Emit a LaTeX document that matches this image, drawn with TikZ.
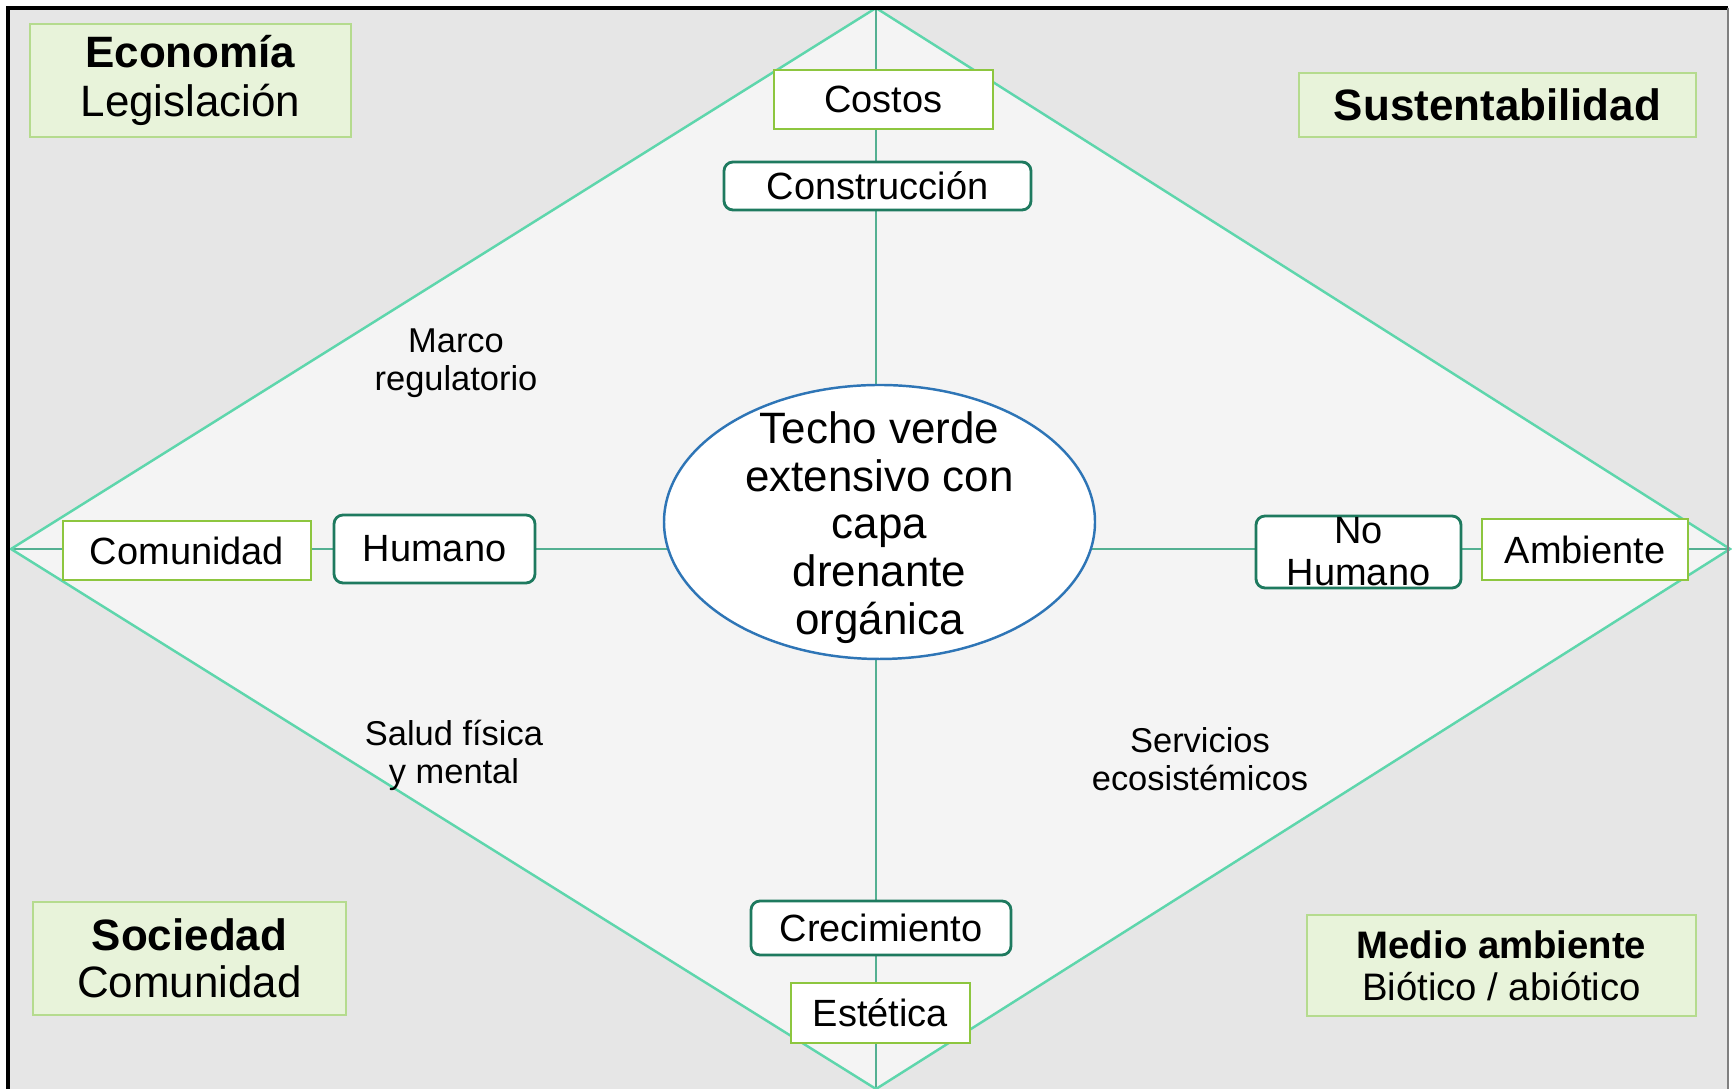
\documentclass[tikz,border=0pt]{standalone}
\usepackage{fontspec}
\setmainfont{Liberation Sans}
\usetikzlibrary{shapes.geometric}
\definecolor{fondo}{RGB}{230,230,230}
\definecolor{rombo}{RGB}{244,244,244}
\definecolor{menta}{RGB}{94,214,172}
\definecolor{eje}{RGB}{84,176,146}
\definecolor{verdeclaro}{RGB}{232,243,218}
\definecolor{bordeclaro}{RGB}{181,219,142}
\definecolor{lima}{RGB}{141,198,63}
\definecolor{pino}{RGB}{30,122,95}
\definecolor{azul}{RGB}{46,117,182}
\begin{document}
\begin{tikzpicture}[
  titulo/.style={draw=bordeclaro,fill=verdeclaro,line width=0.8pt,inner sep=0pt,align=center},
  cajaverde/.style={draw=lima,fill=white,line width=0.8pt,inner sep=0pt,font=\fontsize{10.8}{12}\selectfont},
  cajapino/.style={draw=pino,fill=white,line width=0.8pt,rounded corners=0.09cm,inner sep=0pt,font=\fontsize{10.8}{12}\selectfont},
  etiqueta/.style={align=center,font=\fontsize{9.8}{10.7}\selectfont}]
\useasboundingbox (0,0) rectangle (17.32,10.89);
\fill[fondo] (0.08,0) rectangle (17.28,10.81);
\coordinate (dtop) at (8.76,10.81); \coordinate (dbot) at (8.76,0);
\coordinate (dleft) at (0.11,5.40); \coordinate (dright) at (17.30,5.40);
\fill[rombo] (dtop) -- (dright) -- (dbot) -- (dleft) -- cycle;
\draw[eje,line width=0.45pt] (dtop) -- (dbot); \draw[eje,line width=0.45pt] (dleft) -- (dright);
\draw[menta,line width=0.7pt] (dtop) -- (dright) -- (dbot) -- (dleft) -- cycle;
\draw[line width=0.9pt] (0.08,0) -- (0.08,10.81) -- (17.28,10.81); \draw[gray,line width=0.4pt] (17.28,10.81) -- (17.28,0);

\node[titulo,font=\fontsize{12.5}{13.8}\selectfont,minimum width=3.21cm,minimum height=1.13cm] at (1.905,10.085) (economia) {\textbf{Economía}\\Legislación};
\node[titulo,font=\fontsize{12.5}{13.8}\selectfont,minimum width=3.97cm,minimum height=0.64cm] at (14.975,9.84) (sustent) {\textbf{Sustentabilidad}};
\node[titulo,font=\fontsize{12.5}{13.5}\selectfont,minimum width=3.13cm,minimum height=1.13cm] at (1.895,1.305) (sociedad) {\textbf{Sociedad}\\Comunidad};
\node[titulo,font=\fontsize{10.9}{11.9}\selectfont,minimum width=3.89cm,minimum height=1.01cm] at (15.015,1.235) (medio) {\textbf{Medio ambiente}\\Biótico / abiótico};

\node[cajaverde,minimum width=2.19cm,minimum height=0.59cm] at (8.835,9.895) (costos) {Costos};
\node[cajapino,minimum width=3.07cm,minimum height=0.48cm] at (8.775,9.03) (constr) {Construcción};
\node[cajaverde,minimum width=2.48cm,minimum height=0.59cm] at (1.87,5.385) (comunidad) {Comunidad};
\node[cajapino,minimum width=2.01cm,minimum height=0.68cm] at (4.345,5.40) (humano) {Humano};
\node[cajapino,minimum width=2.05cm,minimum height=0.72cm] at (13.585,5.37) (nohumano) {};
\node[align=center,font=\fontsize{10.8}{12}\selectfont] at (nohumano) (nohumanotxt) {No\\Humano};
\node[cajaverde,minimum width=2.06cm,minimum height=0.61cm] at (15.85,5.395) (ambiente) {Ambiente};
\node[cajapino,minimum width=2.60cm,minimum height=0.54cm] at (8.81,1.61) (crec) {Crecimiento};
\node[cajaverde,minimum width=1.79cm,minimum height=0.60cm] at (8.805,0.76) (estetica) {Estética};

\node[ellipse,draw=azul,fill=white,line width=0.7pt,minimum width=4.31cm,minimum height=2.74cm,inner sep=0pt] at (8.795,5.67) (techo) {};
\node[align=center,font=\fontsize{12.5}{13.6}\selectfont] at (8.795,5.615) (techotxt) {Techo verde\\extensivo con\\capa\\drenante\\orgánica};

\node[etiqueta] at (4.56,7.255) (marco) {Marco\\regulatorio};
\node[etiqueta] at (4.54,3.335) (salud) {Salud física\\y mental};
\node[etiqueta] at (12.00,3.30) (servicios) {Servicios\\ecosistémicos};
\end{tikzpicture}
\end{document}
